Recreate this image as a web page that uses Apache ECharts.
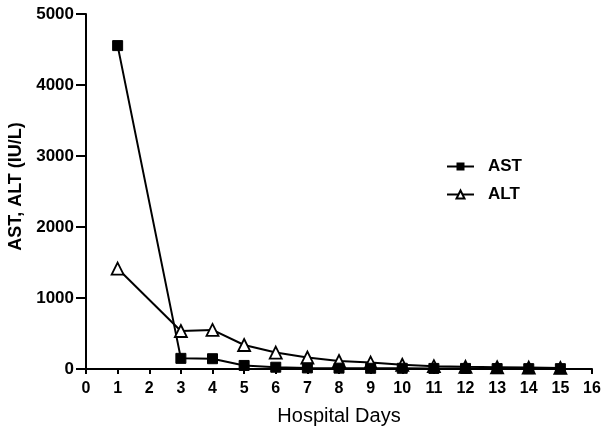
<!DOCTYPE html>
<html><head><meta charset="utf-8">
<script src="https://cdn.jsdelivr.net/npm/echarts@6/dist/echarts.min.js"></script>
<style>html,body{margin:0;padding:0;background:#fff}#c{width:605px;height:428px}</style>
</head><body><div id="c"></div>
<script>
const astDays = [1, 3, 4, 5, 6, 7, 8, 9, 10, 11, 12, 13, 14, 15];
const astValues = [4555, 150, 145, 50, 25, 15, 12, 10, 10, 8, 8, 6, 5, 5];
const altDays = [1, 3, 4, 5, 6, 7, 8, 9, 10, 11, 12, 13, 14, 15];
const altValues = [1415, 535, 550, 338, 232, 162, 113, 90, 60, 40, 30, 25, 20, 15];
const xTicks = [0, 16, 1];
const yTicks = [0, 5000, 1000];

const chart = echarts.init(document.getElementById('c'));
const font = 'Liberation Sans, Arial, sans-serif';
chart.setOption({
  animation: false,
  backgroundColor: '#fff',
  grid: {left: 86, right: 13, top: 14, bottom: 59, outerBoundsMode: 'none', containLabel: false},
  legend: {
    orient: 'vertical', left: 441, top: 153, itemGap: 11, itemWidth: 27, itemHeight: 10,
    textStyle: {fontFamily: font, fontWeight: 'bold', fontSize: 17, color: '#000', padding: [0, 0, 0, 9]},
    data: ['AST', 'ALT']
  },
  xAxis: {
    type: 'value', min: xTicks[0], max: xTicks[1], interval: xTicks[2],
    name: 'Hospital Days', nameLocation: 'middle', nameGap: 37,
    nameTextStyle: {fontFamily: font, fontSize: 20, color: '#000'},
    axisLine: {lineStyle: {color: '#000', width: 2}},
    axisTick: {show: true, length: 5, lineStyle: {color: '#000', width: 2}},
    axisLabel: {fontFamily: font, fontWeight: 'bold', fontSize: 16, color: '#000', margin: 12},
    splitLine: {show: false}
  },
  yAxis: {
    type: 'value', min: yTicks[0], max: yTicks[1], interval: yTicks[2],
    name: 'AST, ALT (IU/L)', nameLocation: 'middle', nameGap: 57,
    nameTextStyle: {fontFamily: font, fontWeight: 'bold', fontSize: 18, color: '#000', padding: [0, 0, 0, 10]},
    axisLine: {show: true, lineStyle: {color: '#000', width: 2}},
    axisTick: {show: true, length: 10, lineStyle: {color: '#000', width: 2}},
    axisLabel: {fontFamily: font, fontWeight: 'bold', fontSize: 17, color: '#000', margin: 12,
      formatter: v => String(v)},
    splitLine: {show: false}
  },
  series: [
    {
      name: 'ALT', type: 'line', data: altDays.map((d, i) => [d, altValues[i]]),
      symbol: 'triangle', symbolSize: 12,
      lineStyle: {color: '#000', width: 2},
      itemStyle: {color: '#fff', borderColor: '#000', borderWidth: 1.8}
    },
    {
      name: 'AST', type: 'line', data: astDays.map((d, i) => [d, astValues[i]]),
      symbol: 'rect', symbolSize: 10,
      lineStyle: {color: '#000', width: 2},
      itemStyle: {color: '#000', borderColor: '#000'}
    }
  ]
});
</script></body></html>
